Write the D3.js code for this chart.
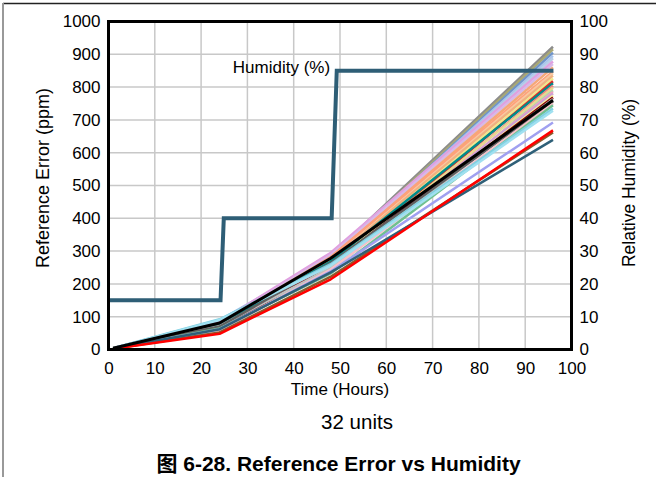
<!DOCTYPE html>
<html><head><meta charset="utf-8">
<script src="https://cdn.jsdelivr.net/npm/d3@7"></script>
<style>
html,body{margin:0;padding:0;background:#fff;}
svg{display:block;font-family:"Liberation Sans",Arial,"Noto Sans CJK SC",sans-serif;}
</style></head>
<body><svg id="c" width="661" height="477"></svg>
<script>
// ---- data ----
const times = [1, 24, 48, 96];
const unitColors = ["#8c8c8c","#a9a874","#6f93c8","#a8c4ec","#b8cfe8","#e0a0e0","#d8b8e8","#f4a878","#ffa07a","#f8c8a0","#f0b080","#f0e68c","#e02828","#008b8b","#f08080","#e8d890","#a8d8a8","#f0a0c0","#c8a0d8","#f8f0a0","#800000","#c0c0c0","#606060","#f8c0c8","#70c090","#80d0e0","#a0e0f0","#a0a0f0","#8b5a2b","#2f6078","#ff0000","#000000"];
const v1  = [4, 3, 4, 3, 4, 4, 3, 3, 4, 3, 3, 4, 2, 3, 3, 3, 4, 3, 3, 3, 3, 4, 3, 3, 3, 4, 3, 3, 2, 3, 2, 4];
const v24 = [84, 82, 88, 90, 86, 84, 80, 78, 76, 74, 72, 70, 58, 74, 60, 68, 66, 62, 64, 66, 60, 72, 70, 56, 64, 92, 90, 62, 52, 62, 48, 81];
const v48 = [285, 280, 278, 282, 276, 295, 288, 280, 282, 272, 270, 262, 250, 268, 246, 258, 240, 252, 256, 250, 260, 248, 264, 244, 232, 260, 256, 238, 222, 235, 214, 278];
const v96 = [923, 915, 905, 895, 888, 878, 870, 860, 848, 842, 835, 826, 818, 812, 804, 798, 790, 785, 780, 774, 768, 764, 755, 750, 745, 735, 728, 692, 662, 639, 668, 760];
const humTime = [0, 24.2, 24.9, 48.2, 49.3, 96.1];
const humValue = [15, 15, 40, 40, 85, 85];
const xTicks = [0,10,20,30,40,50,60,70,80,90,100];
const yTicks = [0,100,200,300,400,500,600,700,800,900,1000];
const yRTicks = [0,10,20,30,40,50,60,70,80,90,100];

// ---- chart ----
const svg = d3.select("#c");
const L = 108.5, R = 571.5, T = 21.5, B = 349.5;
const x = d3.scaleLinear().domain([0,100]).range([L,R]);
const y = d3.scaleLinear().domain([0,1000]).range([B,T]);
const yR = d3.scaleLinear().domain([0,100]).range([B,T]);

// outer frame lines
svg.append("line").attr("x1",3).attr("x2",656).attr("y1",3.5).attr("y2",3.5).attr("stroke","#222").attr("stroke-width",1.5);
svg.append("line").attr("x1",3).attr("x2",3).attr("y1",3).attr("y2",477).attr("stroke","#999").attr("stroke-width",2);

// grid
const g = svg.append("g");
g.selectAll(".vg").data(xTicks).join("line")
  .attr("x1",d=>x(d)).attr("x2",d=>x(d)).attr("y1",T).attr("y2",B)
  .attr("stroke","#c8c8c8").attr("stroke-width",1.5);
g.selectAll(".hg").data(yTicks).join("line")
  .attr("x1",L).attr("x2",R).attr("y1",d=>y(d)).attr("y2",d=>y(d))
  .attr("stroke","#c8c8c8").attr("stroke-width",1.5);

// unit lines
const line = d3.line().x(d=>x(d[0])).y(d=>y(d[1]));
const series = unitColors.map((c,i)=>({color:c, pts: times.map((t,j)=>[t,[v1,v24,v48,v96][j][i]])}));
svg.append("g").selectAll("path").data(series).join("path")
  .attr("d",d=>line(d.pts)).attr("fill","none")
  .attr("stroke",d=>d.color).attr("stroke-width",d=>d.color==="#000000"?3:2.5)
  .attr("stroke-linejoin","round");

// humidity line
const hline = d3.line().x(d=>x(d[0])).y(d=>yR(d[1]));
svg.append("path").attr("d",hline(humTime.map((t,i)=>[t,humValue[i]])))
  .attr("fill","none").attr("stroke","#2e5e76").attr("stroke-width",4);

// frame
svg.append("rect").attr("x",L).attr("y",T).attr("width",R-L).attr("height",B-T)
  .attr("fill","none").attr("stroke","#000").attr("stroke-width",3);

// axes
const fs = 17;
const fmt = d3.format("d");
const ax = d3.axisBottom(x).tickValues(xTicks).tickFormat(fmt).tickSize(0).tickPadding(12);
svg.append("g").attr("transform",`translate(0,${B})`).call(ax)
  .call(s=>s.select(".domain").remove())
  .selectAll("text").attr("font-size",fs).attr("fill","#000").attr("font-family",null);
const ay = d3.axisLeft(y).tickValues(yTicks).tickFormat(fmt).tickSize(0).tickPadding(8);
svg.append("g").attr("transform",`translate(${L},0)`).call(ay)
  .call(s=>s.select(".domain").remove())
  .selectAll("text").attr("font-size",fs).attr("fill","#000").attr("font-family",null);
const ayr = d3.axisRight(yR).tickValues(yRTicks).tickFormat(fmt).tickSize(0).tickPadding(8);
svg.append("g").attr("transform",`translate(${R},0)`).call(ayr)
  .call(s=>s.select(".domain").remove())
  .selectAll("text").attr("font-size",fs).attr("fill","#000").attr("font-family",null);

// titles
svg.append("text").attr("x",340).attr("y",395).attr("text-anchor","middle").attr("font-size",17).text("Time (Hours)");
svg.append("text").attr("transform","translate(49,178) rotate(-90)").attr("text-anchor","middle").attr("font-size",18).text("Reference Error (ppm)");
svg.append("text").attr("transform","translate(635,183) rotate(-90)").attr("text-anchor","middle").attr("font-size",17.5).text("Relative Humidity (%)");
svg.append("text").attr("x",281.5).attr("y",73).attr("text-anchor","middle").attr("font-size",17).text("Humidity (%)");
svg.append("text").attr("x",357).attr("y",429).attr("text-anchor","middle").attr("font-size",20.5).text("32 units");
svg.append("text").attr("x",338.5).attr("y",471).attr("text-anchor","middle").attr("font-size",21).attr("font-weight","bold").text("图 6-28. Reference Error vs Humidity");
</script></body></html>
